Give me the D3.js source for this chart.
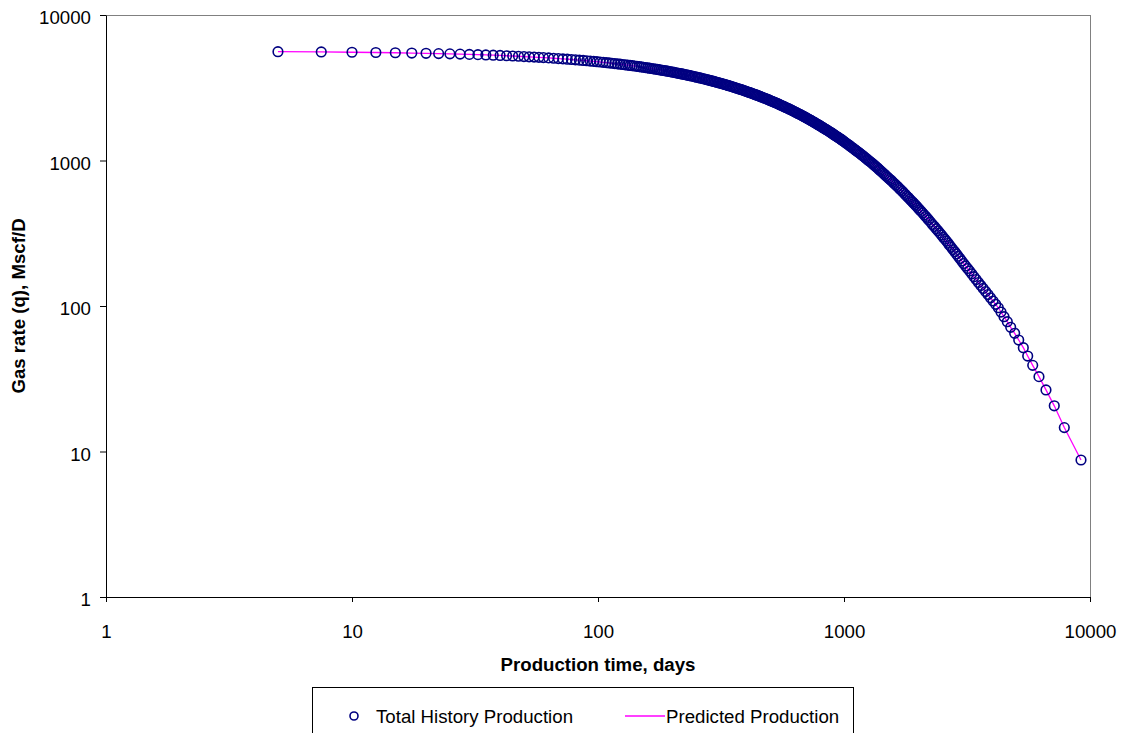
<!DOCTYPE html>
<html>
<head>
<meta charset="utf-8">
<script src="https://cdn.jsdelivr.net/npm/d3@7"></script>
<style>
  body { margin: 0; background: #fff; }
  svg { display: block; }
</style>
</head>
<body>
<div id="plot"></div>
<script>
// production history (days, Mscf/D)
const days = [
  5, 7.5, 10, 12.5, 15, 17.5, 20, 22.5, 25, 27.5, 30, 32.5, 35, 37.5, 40, 42.5, 45, 47.5, 50, 52.5, 55, 57.5, 60,
  63, 66, 69, 72, 75, 78, 81, 84, 87, 90, 93, 96, 99, 102, 105, 108, 111, 114, 117, 120, 123, 126, 129, 132, 135, 138, 141, 144, 147, 150,
  153, 156, 159, 162, 165, 168, 171, 174, 177, 180, 183, 186, 189, 192, 195, 198, 201, 204, 207, 210, 213, 216, 219, 222, 225, 228, 231, 234, 237, 240,
  244, 248, 252, 256, 260, 264, 268, 272, 276, 280, 284, 288, 292, 296, 300, 304, 308, 312, 316, 320, 324, 328, 332, 336, 340,
  345, 350, 355, 360, 365, 370, 375, 380, 385, 390, 395, 400, 405, 410, 415, 420, 425, 430, 435, 440, 445, 450,
  456, 462, 468, 474, 480, 486, 492, 498, 504, 510, 516, 522, 528, 534, 540, 546, 552, 558, 564, 570,
  577, 584, 591, 598, 605, 612, 619, 626, 633, 640, 647, 654, 661, 668, 675, 682, 689, 696, 703, 710,
  718, 726, 734, 742, 750, 758, 766, 774, 782, 790, 798, 806, 814, 822, 830,
  839, 848, 857, 866, 875, 884, 893, 902, 911, 920, 929, 938, 947, 956, 965, 974, 983, 992, 1001, 1010,
  1022, 1034, 1046, 1058, 1070, 1082, 1094, 1106, 1118, 1130,
  1145, 1160, 1175, 1190, 1205, 1220, 1235, 1250, 1265, 1280, 1295, 1310, 1325, 1340, 1355, 1370, 1385, 1400,
  1420, 1440, 1460, 1480, 1500, 1520, 1540, 1560, 1580, 1600,
  1625, 1650, 1675, 1700, 1725, 1750, 1775, 1800,
  1825, 1850, 1875, 1900, 1925, 1950, 1975, 2000,
  2030, 2060, 2090, 2120, 2150, 2180, 2210,
  2250, 2290, 2330, 2370, 2410, 2450, 2490,
  2530, 2570, 2610, 2650, 2690, 2730, 2775, 2820, 2865, 2910, 2960, 3010, 3065, 3120, 3180, 3240, 3305, 3375, 3445, 3520, 3600, 3680, 3765, 3850, 3940, 4035, 4135,
  4239, 4347, 4471, 4611, 4760, 4941, 5131, 5357, 5581, 5849, 6203, 6623, 7157, 7862, 9192
];
const rate = [
  5596, 5572, 5548, 5524, 5501, 5477, 5453, 5430, 5407, 5385, 5361, 5339, 5316, 5293, 5271, 5249, 5227, 5204, 5183, 5161, 5139, 5117, 5097,
  5071, 5045, 5020, 4994, 4970, 4945, 4920, 4895, 4871, 4847, 4823, 4799, 4775, 4752, 4728, 4705, 4682, 4659, 4637, 4614, 4591, 4569, 4547, 4525, 4503, 4482, 4460, 4438, 4416, 4395,
  4373, 4352, 4331, 4310, 4290, 4269, 4248, 4228, 4207, 4186, 4167, 4147, 4128, 4109, 4089, 4069, 4050, 4031, 4011, 3992, 3973, 3955, 3936, 3918, 3899, 3881, 3862, 3844, 3826, 3808,
  3784, 3761, 3738, 3715, 3692, 3669, 3646, 3623, 3601, 3580, 3558, 3537, 3514, 3493, 3471, 3450, 3430, 3410, 3390, 3369, 3349, 3328, 3308, 3288, 3267,
  3244, 3220, 3196, 3173, 3149, 3126, 3101, 3078, 3056, 3035, 3012, 2991, 2968, 2946, 2925, 2903, 2883, 2862, 2841, 2821, 2799, 2779,
  2757, 2733, 2711, 2688, 2665, 2642, 2620, 2597, 2574, 2551, 2531, 2510, 2490, 2470, 2449, 2428, 2407, 2387, 2367, 2347,
  2325, 2304, 2282, 2261, 2240, 2218, 2197, 2176, 2155, 2133, 2114, 2095, 2076, 2058, 2038, 2019, 2001, 1981, 1963, 1943,
  1924, 1904, 1885, 1865, 1845, 1826, 1806, 1788, 1770, 1752, 1734, 1717, 1699, 1681, 1663,
  1646, 1628, 1610, 1592, 1575, 1557, 1540, 1522, 1504, 1487, 1471, 1456, 1440, 1425, 1410, 1395, 1379, 1364, 1348, 1332,
  1313, 1295, 1277, 1259, 1241, 1224, 1207, 1189, 1173, 1157,
  1139, 1119, 1101, 1081, 1063, 1045, 1027, 1009, 994, 978, 963, 947, 932, 916, 901, 887, 871, 857,
  839, 821, 804, 786, 770, 754, 740, 725, 710, 695,
  679, 662, 645, 629, 614, 599, 584, 569,
  557, 543, 530, 518, 506, 494, 484, 472,
  459, 447, 435, 423, 412, 401, 390,
  377, 363, 352, 340, 329, 318, 308,
  297, 288, 279, 270, 261, 253, 244, 236, 228, 220, 212, 204, 196, 188.5, 181, 174, 166.5, 159, 152, 145, 138.5, 132, 125.7, 119.8, 113.9, 108.2, 102.7,
  97.3, 90.9, 84.4, 78.0, 71.4, 64.9, 58.4, 51.7, 45.3, 39.1, 32.7, 26.5, 20.6, 14.6, 8.74
];
// the fitted curve runs through the same points
const predDays = days;
const predRate = rate;

const xTicks = [1, 10, 100, 1000, 10000];
const yTicks = [1, 10, 100, 1000, 10000];

const w = 1128;
const h = 733;
const margin = {top: 15, right: 38, bottom: 136, left: 106};
const font = "'Liberation Sans', Arial, sans-serif";
const fs = 18.67;

const svg = d3.select("div#plot")
    .append("svg")
    .attr("width", w)
    .attr("height", h)
    .style("font-family", font);

svg.append("rect")
    .attr("width", w)
    .attr("height", h)
    .attr("fill", "#fff");

const xScale = d3.scaleLog()
    .domain([1, 10000])
    .range([margin.left, w - margin.right]);

const yScale = d3.scaleLog()
    .domain([1, 10000])
    .range([h - margin.bottom, margin.top]);

// plot area with grey frame
svg.append("rect")
    .attr("x", margin.left + 0.5)
    .attr("y", margin.top + 0.5)
    .attr("width", w - margin.left - margin.right)
    .attr("height", h - margin.top - margin.bottom)
    .attr("fill", "#fff")
    .attr("stroke", "#808080")
    .attr("stroke-width", 1);

const xAxis = d3.axisBottom(xScale)
    .tickValues(xTicks)
    .tickFormat(d3.format("d"))
    .tickSize(5)
    .tickSizeOuter(0);

const yAxis = d3.axisLeft(yScale)
    .tickValues(yTicks)
    .tickFormat(d3.format("d"))
    .tickSize(6)
    .tickSizeOuter(0);

const gx = svg.append("g")
    .attr("class", "xAxis")
    .attr("transform", `translate(0, ${h - margin.bottom})`)
    .call(xAxis)
    .attr("font-family", font)
    .attr("font-size", fs);
gx.selectAll("line, path").attr("stroke", "#000");
gx.selectAll("text")
    .attr("fill", "#000")
    .attr("dy", null)
    .attr("y", 41);

const gy = svg.append("g")
    .attr("class", "yAxis")
    .attr("transform", `translate(${margin.left}, 0)`)
    .call(yAxis)
    .attr("font-family", font)
    .attr("font-size", fs);
gy.selectAll("line, path").attr("stroke", "#000");
gy.selectAll("text")
    .attr("fill", "#000")
    .attr("dy", null)
    .attr("x", -15)
    .attr("y", 8.5);

// axis titles
svg.append("text")
    .attr("x", (margin.left + w - margin.right) / 2)
    .attr("y", 671)
    .attr("text-anchor", "middle")
    .style("font-size", fs + "px")
    .style("font-weight", "bold")
    .text("Production time, days");

svg.append("text")
    .attr("transform", `translate(25, ${(margin.top + h - margin.bottom) / 2}) rotate(-90)`)
    .attr("text-anchor", "middle")
    .style("font-size", fs + "px")
    .style("font-weight", "bold")
    .text("Gas rate (q), Mscf/D");

// predicted line under the markers
const predicted = predDays.map((d, i) => ({t: d, q: predRate[i]}));
const history = days.map((d, i) => ({t: d, q: rate[i]}));

svg.append("path")
    .datum(predicted)
    .attr("fill", "none")
    .attr("stroke", "#FF00FF")
    .attr("stroke-width", 1.3)
    .attr("d", d3.line().x(d => xScale(d.t)).y(d => yScale(d.q)));

svg.append("g")
    .selectAll("circle")
    .data(history)
    .enter().append("circle")
    .attr("cx", d => xScale(d.t))
    .attr("cy", d => yScale(d.q))
    .attr("r", 4.8)
    .attr("fill", "none")
    .attr("stroke", "#000080")
    .attr("stroke-width", 1.6);

// legend
const legend = svg.append("g");
legend.append("rect")
    .attr("x", 312.5)
    .attr("y", 687.5)
    .attr("width", 541)
    .attr("height", 70)
    .attr("fill", "#fff")
    .attr("stroke", "#000")
    .attr("stroke-width", 1);

legend.append("circle")
    .attr("cx", 354)
    .attr("cy", 716)
    .attr("r", 4)
    .attr("fill", "none")
    .attr("stroke", "#000080")
    .attr("stroke-width", 1.6);

legend.append("text")
    .attr("x", 376)
    .attr("y", 722.5)
    .style("font-size", fs + "px")
    .text("Total History Production");

legend.append("line")
    .attr("x1", 625)
    .attr("x2", 665)
    .attr("y1", 716)
    .attr("y2", 716)
    .attr("stroke", "#FF00FF")
    .attr("stroke-width", 1.3);

legend.append("text")
    .attr("x", 666)
    .attr("y", 722.5)
    .style("font-size", fs + "px")
    .text("Predicted Production");
</script>
</body>
</html>
